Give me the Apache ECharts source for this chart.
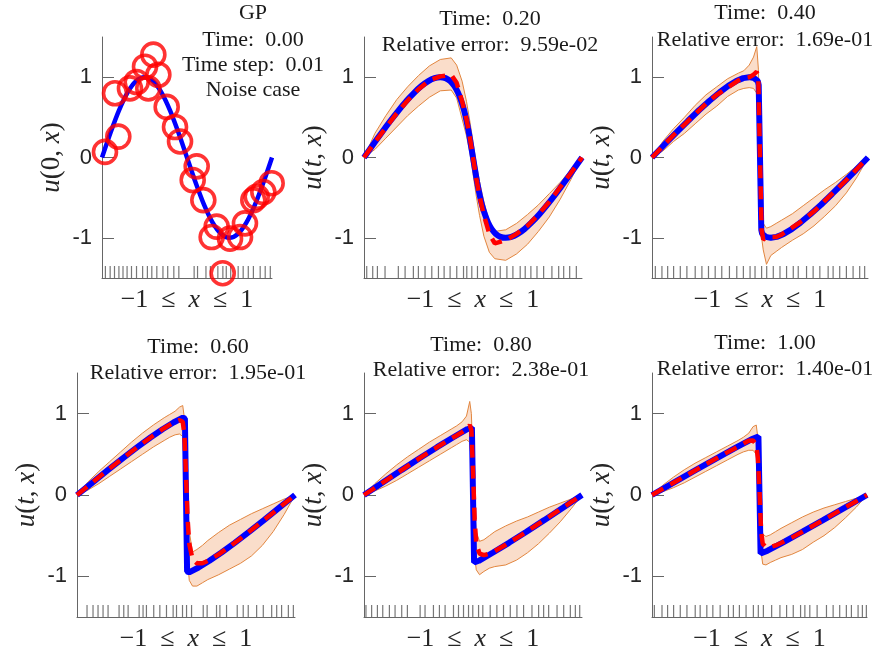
<!DOCTYPE html>
<html>
<head>
<meta charset="utf-8">
<script src="https://cdn.jsdelivr.net/npm/echarts@6/dist/echarts.min.js"></script>
<style>
html,body{margin:0;padding:0;background:#fff;}
#chart{width:879px;height:659px;}
</style>
</head>
<body>
<div id="chart"></div>
<script>
// ---------- data ----------
const yTickValues = [-1, 0, 1];
const yTickLabels = ['-1', '0', '1'];

// panel 1: initial condition and noisy observations
const exact0X = [-1,-0.9,-0.8,-0.7,-0.6,-0.5,-0.4,-0.3,-0.2,-0.1,0,0.1,0.2,0.3,0.4,0.5,0.6,0.7,0.8,0.9,1];
const exact0U = [0,0.309,0.588,0.809,0.951,1,0.951,0.809,0.588,0.309,0,-0.309,-0.588,-0.809,-0.951,-1,-0.951,-0.809,-0.588,-0.309,0];
const obsX = [-0.965,-0.847,-0.808,-0.671,-0.592,-0.494,-0.455,-0.396,-0.337,-0.239,-0.141,-0.082,0.067,0.114,0.192,0.29,0.349,0.42,0.506,0.624,0.682,0.78,0.82,0.898,0.996];
const obsU = [0.07,0.8,0.26,0.86,0.94,1.13,0.86,1.28,1.03,0.63,0.38,0.2,-0.28,-0.11,-0.53,-0.99,-0.86,-1.44,-1.01,-0.99,-0.82,-0.53,-0.49,-0.43,-0.32];
const rug0 = [-0.96,-0.904,-0.853,-0.801,-0.753,-0.705,-0.653,-0.594,-0.522,-0.466,-0.414,-0.355,-0.283,-0.227,-0.155,-0.096,0.084,0.124,0.223,0.275,0.363,0.422,0.462,0.514,0.602,0.661,0.721,0.781,0.861,0.92,0.98];

// exact solutions
const exact02X = [-1,-0.919,-0.838,-0.759,-0.682,-0.609,-0.538,-0.472,-0.41,-0.352,-0.3,-0.252,-0.21,-0.172,-0.138,-0.109,-0.082,-0.059,-0.038,-0.019,0,0.019,0.038,0.059,0.082,0.109,0.138,0.172,0.21,0.252,0.3,0.352,0.41,0.472,0.538,0.609,0.682,0.759,0.838,0.919,1];
const exact02U = [0,0.156,0.309,0.454,0.588,0.707,0.809,0.891,0.951,0.988,1,0.988,0.951,0.891,0.809,0.707,0.588,0.454,0.309,0.156,0,-0.156,-0.309,-0.454,-0.588,-0.707,-0.809,-0.891,-0.951,-0.988,-1,-0.988,-0.951,-0.891,-0.809,-0.707,-0.588,-0.454,-0.309,-0.156,0];
const exact04X = [-1,-0.888,-0.776,-0.668,-0.565,-0.467,-0.376,-0.294,-0.22,-0.155,-0.1,-0.055,-0.02,-0.012,0,0.012,0.02,0.055,0.1,0.155,0.22,0.294,0.376,0.467,0.565,0.668,0.776,0.888,1];
const exact04U = [0,0.156,0.309,0.454,0.588,0.707,0.809,0.891,0.951,0.988,1,0.988,0.951,0.9,0,-0.9,-0.951,-0.988,-1,-0.988,-0.951,-0.891,-0.809,-0.707,-0.588,-0.454,-0.309,-0.156,0];
const exact06X = [-1,-0.856,-0.715,-0.578,-0.447,-0.326,-0.215,-0.115,-0.029,-0.01,0,0.01,0.029,0.115,0.215,0.326,0.447,0.578,0.715,0.856,1];
const exact06U = [0,0.156,0.309,0.454,0.588,0.707,0.809,0.891,0.951,0.94,0,-0.94,-0.951,-0.891,-0.809,-0.707,-0.588,-0.454,-0.309,-0.156,0];
const exact08X = [-1,-0.825,-0.653,-0.487,-0.33,-0.184,-0.053,-0.01,0,0.01,0.053,0.184,0.33,0.487,0.653,0.825,1];
const exact08U = [0,0.156,0.309,0.454,0.588,0.707,0.809,0.83,0,-0.83,-0.809,-0.707,-0.588,-0.454,-0.309,-0.156,0];
const exact10X = [-1,-0.794,-0.591,-0.396,-0.212,-0.075,-0.01,0,0.01,0.075,0.212,0.396,0.591,0.794,1];
const exact10U = [0,0.156,0.309,0.454,0.588,0.685,0.72,0,-0.72,-0.685,-0.588,-0.454,-0.309,-0.156,0];

// GP prediction grid
const predX = [-1,-0.9,-0.8,-0.7,-0.6,-0.5,-0.4,-0.3,-0.2,-0.15,-0.1,-0.06,-0.03,-0.015,0,0.015,0.03,0.06,0.1,0.15,0.2,0.3,0.4,0.5,0.6,0.7,0.8,0.9,1];

const mean02 = [0,0.19,0.37,0.55,0.71,0.85,0.96,1.01,1.03,0.93,0.7,0.48,0.26,0.13,0,-0.13,-0.26,-0.48,-0.72,-0.95,-1.07,-1.03,-0.95,-0.85,-0.71,-0.55,-0.37,-0.19,0];
const upper02 = [0,0.3,0.52,0.72,0.88,1.02,1.14,1.22,1.24,1.15,0.95,0.7,0.46,0.33,0.2,0.06,-0.08,-0.3,-0.55,-0.8,-0.92,-0.9,-0.82,-0.71,-0.59,-0.45,-0.31,-0.15,0];
const lower02 = [0,0.1,0.24,0.38,0.52,0.64,0.75,0.83,0.84,0.74,0.48,0.27,0.07,-0.06,-0.2,-0.34,-0.48,-0.72,-0.98,-1.18,-1.26,-1.28,-1.2,-1.08,-0.92,-0.74,-0.52,-0.27,0];

const mean04 = [0,0.14,0.28,0.41,0.54,0.67,0.78,0.87,0.96,0.99,1.0,1.03,1.07,0.95,0,-0.9,-1.02,-1.0,-0.99,-0.99,-0.96,-0.87,-0.78,-0.67,-0.54,-0.41,-0.28,-0.14,0];
const upper04 = [0,0.2,0.36,0.5,0.65,0.78,0.88,0.98,1.05,1.08,1.15,1.25,1.38,1.1,0.3,-0.5,-0.82,-0.88,-0.86,-0.82,-0.78,-0.7,-0.6,-0.5,-0.4,-0.31,-0.21,-0.1,0];
const lower04 = [0,0.08,0.2,0.3,0.42,0.54,0.64,0.76,0.84,0.86,0.87,0.86,0.8,0.3,-0.4,-1.0,-1.15,-1.33,-1.22,-1.17,-1.12,-1.03,-0.95,-0.85,-0.73,-0.6,-0.44,-0.24,0];

const mean06 = [0,0.108,0.218,0.325,0.43,0.534,0.634,0.731,0.821,0.862,0.9,0.92,0.9,0.75,0.25,-0.3,-0.6,-0.79,-0.84,-0.84,-0.81,-0.73,-0.634,-0.534,-0.43,-0.325,-0.218,-0.108,0];
const upper06 = [0,0.16,0.29,0.41,0.53,0.65,0.76,0.86,0.95,0.99,1.03,1.08,1.1,0.95,0.3,-0.15,-0.45,-0.7,-0.67,-0.62,-0.56,-0.46,-0.37,-0.3,-0.23,-0.17,-0.11,-0.05,0];
const lower06 = [0,0.06,0.14,0.23,0.32,0.41,0.5,0.59,0.67,0.71,0.74,0.75,0.72,0.5,-0.2,-0.8,-1.05,-1.12,-1.12,-1.08,-1.04,-0.98,-0.91,-0.84,-0.75,-0.62,-0.45,-0.24,0];

const mean08 = [0,0.089,0.178,0.267,0.355,0.443,0.529,0.612,0.694,0.732,0.773,0.81,0.86,0.8,0.3,-0.3,-0.6,-0.72,-0.74,-0.72,-0.69,-0.612,-0.529,-0.443,-0.355,-0.267,-0.178,-0.089,0];
const upper08 = [0,0.14,0.26,0.37,0.47,0.56,0.65,0.73,0.81,0.85,0.9,0.97,1.15,1.0,0.4,-0.15,-0.45,-0.57,-0.55,-0.5,-0.45,-0.38,-0.32,-0.27,-0.21,-0.15,-0.1,-0.05,0];
const lower08 = [0,0.05,0.11,0.18,0.26,0.34,0.42,0.5,0.58,0.62,0.66,0.68,0.65,0.4,-0.2,-0.75,-0.92,-0.98,-0.94,-0.9,-0.88,-0.86,-0.8,-0.71,-0.6,-0.47,-0.33,-0.17,0];

const mean10 = [0,0.076,0.151,0.226,0.302,0.377,0.451,0.524,0.594,0.631,0.667,0.67,0.62,0.45,0.05,-0.45,-0.6,-0.64,-0.64,-0.62,-0.59,-0.524,-0.451,-0.377,-0.302,-0.226,-0.151,-0.076,0];
const upper10 = [0,0.12,0.22,0.31,0.39,0.46,0.53,0.6,0.67,0.71,0.76,0.84,0.86,0.7,0.2,-0.3,-0.48,-0.51,-0.49,-0.45,-0.41,-0.34,-0.27,-0.21,-0.16,-0.12,-0.08,-0.04,0];
const lower10 = [0,0.04,0.09,0.15,0.22,0.29,0.36,0.43,0.5,0.53,0.55,0.55,0.5,0.3,-0.2,-0.7,-0.85,-0.86,-0.83,-0.8,-0.77,-0.73,-0.67,-0.58,-0.5,-0.4,-0.28,-0.15,0];

// training point locations (rug)
const rug02 = [-0.975,-0.92,-0.877,-0.807,-0.685,-0.623,-0.547,-0.501,-0.44,-0.378,-0.317,-0.265,-0.21,-0.149,-0.087,-0.057,-0.011,0.041,0.096,0.158,0.204,0.25,0.311,0.366,0.433,0.479,0.531,0.587,0.648,0.724,0.786,0.832,0.887,0.948];
const rug04 = [-0.969,-0.908,-0.855,-0.8,-0.738,-0.677,-0.6,-0.538,-0.477,-0.415,-0.354,-0.283,-0.215,-0.154,-0.092,-0.046,0.015,0.062,0.123,0.185,0.246,0.308,0.354,0.431,0.492,0.554,0.631,0.677,0.738,0.8,0.862,0.923,0.969];
const rug06 = [-0.908,-0.853,-0.807,-0.761,-0.715,-0.614,-0.571,-0.531,-0.43,-0.394,-0.363,-0.296,-0.24,-0.179,-0.118,-0.087,-0.032,0.005,0.051,0.158,0.194,0.28,0.311,0.372,0.47,0.525,0.571,0.648,0.709,0.786,0.832,0.877,0.939,0.985];
const rug08 = [-0.982,-0.93,-0.877,-0.828,-0.767,-0.715,-0.654,-0.602,-0.485,-0.44,-0.363,-0.308,-0.256,-0.179,-0.133,-0.087,-0.041,-0.002,0.051,0.09,0.158,0.219,0.28,0.342,0.403,0.464,0.541,0.602,0.648,0.694,0.771,0.832,0.893,0.939,0.979];
const rug10 = [-0.978,-0.907,-0.855,-0.799,-0.737,-0.675,-0.598,-0.552,-0.49,-0.434,-0.366,-0.289,-0.243,-0.187,-0.125,-0.057,-0.011,0.036,0.113,0.19,0.252,0.314,0.382,0.422,0.468,0.536,0.623,0.685,0.746,0.808,0.855,0.917,0.957,0.994];

const titleLines = [
  ['GP', 'Time:  0.00', 'Time step:  0.01', 'Noise case'],
  ['Time:  0.20', 'Relative error:  9.59e-02'],
  ['Time:  0.40', 'Relative error:  1.69e-01'],
  ['Time:  0.60', 'Relative error:  1.95e-01'],
  ['Time:  0.80', 'Relative error:  2.38e-01'],
  ['Time:  1.00', 'Relative error:  1.40e-01']
];

// ---------- layout / style ----------
const grids = [
  {left: 102, top: 37, width: 170, height: 241},
  {left: 364, top: 37, width: 218, height: 241},
  {left: 652, top: 37, width: 216, height: 241},
  {left: 77,  top: 373, width: 218, height: 244},
  {left: 364, top: 373, width: 218, height: 244},
  {left: 652, top: 373, width: 215, height: 244}
];
const titlePos = [
  {x: 253, ys: [13, 40, 65, 90]},
  {x: 490, ys: [19, 45]},
  {x: 765, ys: [13, 40]},
  {x: 198, ys: [347, 373]},
  {x: 481, ys: [345, 370]},
  {x: 765, ys: [343, 369]}
];
const AX = '#666666';
const TXT = '#262626';
const BAND_FILL = 'rgba(240,150,90,0.32)';
const BAND_EDGE = '#e2863f';

const serif = 'Liberation Serif';
const nameRich = {
  i: {fontFamily: serif, fontStyle: 'italic', fontSize: 27, color: TXT},
  n: {fontFamily: serif, fontSize: 27, color: TXT},
  s: {fontFamily: serif, fontSize: 26, color: TXT, padding: [0, 13]},
  xi: {fontFamily: serif, fontStyle: 'italic', fontSize: 26, color: TXT},
  xn: {fontFamily: serif, fontSize: 26, color: TXT}
};

const xAxes = [], yAxes = [];
grids.forEach((g, p) => {
  xAxes.push({
    gridIndex: p, type: 'value', min: -1, max: 1,
    axisLine: {show: true, onZero: false, lineStyle: {color: AX, width: 1}},
    axisTick: {show: false}, axisLabel: {show: false}, splitLine: {show: false},
    name: '{xn|−1}{s|≤}{xi|x}{s|≤}{xn|1}', nameLocation: 'middle', nameGap: 9,
    nameTextStyle: {rich: nameRich}
  });
  yAxes.push({
    gridIndex: p, type: 'value', min: -1.5, max: 1.5,
    axisLine: {show: true, onZero: false, lineStyle: {color: AX, width: 1}},
    axisTick: {show: true, inside: true, length: 12, customValues: yTickValues, lineStyle: {color: AX, width: 1}},
    axisLabel: {customValues: yTickValues, margin: 10, fontFamily: 'Liberation Sans', fontSize: 22, color: TXT,
      formatter: v => yTickLabels[yTickValues.indexOf(v)]},
    splitLine: {show: false},
    name: p === 0 ? '{i|u}{n|(0, }{i|x}{n|)}' : '{i|u}{n|(}{i|t}{n|, }{i|x}{n|)}',
    nameLocation: 'middle', nameGap: 37, nameRotate: 90,
    nameTextStyle: {rich: nameRich}
  });
});

function zip(a, b) { return a.map((v, i) => [v, b[i]]); }

function bandSeries(p, xs, up, lo) {
  return {
    type: 'custom', xAxisIndex: p, yAxisIndex: p, silent: true, z: 1,
    data: [[0, 0]],
    renderItem: (params, api) => {
      const pts = [];
      for (let i = 0; i < xs.length; i++) pts.push(api.coord([xs[i], up[i]]));
      for (let i = xs.length - 1; i >= 0; i--) pts.push(api.coord([xs[i], lo[i]]));
      return {type: 'polygon', shape: {points: pts}, style: {fill: BAND_FILL, stroke: BAND_EDGE, lineWidth: 1}};
    }
  };
}
function rugSeries(p, xs) {
  return {
    type: 'scatter', xAxisIndex: p, yAxisIndex: p, silent: true, z: 2,
    data: xs.map(x => [x, -1.5]),
    symbol: 'rect', symbolSize: [1.2, 12], symbolOffset: [0, -6],
    itemStyle: {color: '#555555'}
  };
}
function exactSeries(p, xs, us, w, smooth) {
  return {
    type: 'line', xAxisIndex: p, yAxisIndex: p, silent: true, z: 3, clip: false,
    data: zip(xs, us), showSymbol: false, symbol: 'none', smooth: smooth || false,
    lineStyle: {color: '#0000ff', width: w}
  };
}
function meanSeries(p, ys) {
  return {
    type: 'line', xAxisIndex: p, yAxisIndex: p, silent: true, z: 4, clip: false,
    data: zip(predX, ys), showSymbol: false, symbol: 'none',
    lineStyle: {color: '#ff0000', width: 4.5, type: [13, 8]}
  };
}

const series = [
  rugSeries(0, rug0),
  exactSeries(0, exact0X, exact0U, 4.5, 0.3),
  {
    type: 'scatter', xAxisIndex: 0, yAxisIndex: 0, silent: true, z: 5,
    data: zip(obsX, obsU), symbol: 'circle', symbolSize: 23,
    itemStyle: {color: 'rgba(0,0,0,0)', borderColor: '#ff0000', borderWidth: 3.6}
  }
];
const panels = [
  [exact02X, exact02U, mean02, upper02, lower02, rug02],
  [exact04X, exact04U, mean04, upper04, lower04, rug04],
  [exact06X, exact06U, mean06, upper06, lower06, rug06],
  [exact08X, exact08U, mean08, upper08, lower08, rug08],
  [exact10X, exact10U, mean10, upper10, lower10, rug10]
];
panels.forEach((d, k) => {
  const p = k + 1;
  series.push(bandSeries(p, predX, d[3], d[4]));
  series.push(rugSeries(p, d[5]));
  series.push(exactSeries(p, d[0], d[1], 6, p === 1 ? 0.2 : false));
  series.push(meanSeries(p, d[2]));
});

const graphics = [];
titlePos.forEach((t, p) => {
  titleLines[p].forEach((line, j) => {
    graphics.push({
      type: 'text', x: t.x, y: t.ys[j], silent: true,
      style: {text: line, fontFamily: serif, fontSize: 22, fill: '#1a1a1a', align: 'center', verticalAlign: 'middle'}
    });
  });
});

const chart = echarts.init(document.getElementById('chart'), null, {renderer: 'canvas'});
chart.setOption({
  backgroundColor: '#ffffff',
  animation: false,
  grid: grids,
  xAxis: xAxes,
  yAxis: yAxes,
  series: series,
  graphic: graphics
});
</script>
</body>
</html>
